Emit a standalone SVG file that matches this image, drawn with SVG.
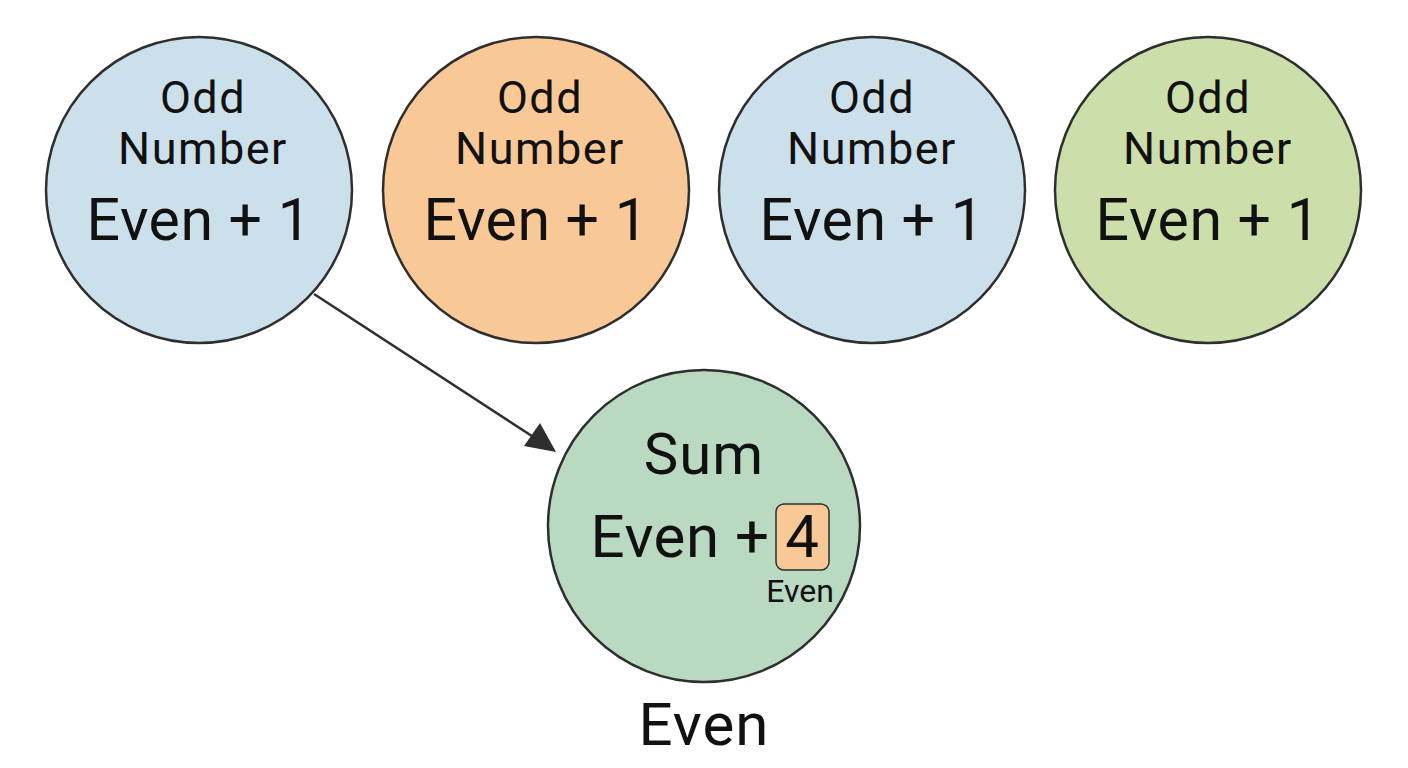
<svg xmlns="http://www.w3.org/2000/svg" width="1408" height="768" viewBox="0 0 1408 768">
<style>
.c{stroke:#2e2e2e;stroke-width:2.5}
.t{font-family:Roboto,"Liberation Sans",sans-serif;fill:#111;text-anchor:middle}
.s{font-size:45px;letter-spacing:1.5px}
.b{font-size:59px;letter-spacing:0.5px}
</style>
<rect width="1408" height="768" fill="#fff"/>
<g id="n1"><circle class="c" cx="199" cy="190" r="153" fill="#CCE0EC"/>
<text class="t s" x="203" y="113">Odd</text><text class="t s" x="203" y="164">Number</text><text class="t b" x="199" y="240">Even + 1</text></g>
<g id="n2"><circle class="c" cx="536" cy="190" r="153" fill="#F8C997"/>
<text class="t s" x="540" y="113">Odd</text><text class="t s" x="540" y="164">Number</text><text class="t b" x="536" y="240">Even + 1</text></g>
<g id="n3"><circle class="c" cx="872" cy="190" r="153" fill="#CCE0EC"/>
<text class="t s" x="872" y="113">Odd</text><text class="t s" x="872" y="164">Number</text><text class="t b" x="872" y="240">Even + 1</text></g>
<g id="n4"><circle class="c" cx="1208" cy="190" r="153" fill="#CCDEA9"/>
<text class="t s" x="1208" y="113">Odd</text><text class="t s" x="1208" y="164">Number</text><text class="t b" x="1208" y="240">Even + 1</text></g>
<g id="sum"><circle class="c" cx="704" cy="526" r="156" fill="#BAD9C1"/>
<text class="t" style="font-size:58px;letter-spacing:1px" x="704" y="474">Sum</text>
<text class="t" style="font-size:60px;letter-spacing:0.5px" x="680" y="557">Even +</text>
<rect x="776" y="504" width="53" height="66" rx="8" fill="#F8C997" stroke="#2e2e2e" stroke-width="1.5"/>
<text class="t" style="font-size:60px" x="802" y="557">4</text>
<text class="t" style="font-size:32px" x="800" y="602">Even</text></g>
<g id="label"><text class="t" style="font-size:60px;letter-spacing:1px" x="704" y="745">Even</text></g>
<g id="connectors">
<line x1="314" y1="294" x2="535" y2="438" stroke="#2e2e2e" stroke-width="2.5"/>
<polygon points="556,452 524,446 540,423" fill="#2e2e2e"/>
</g>
</svg>
